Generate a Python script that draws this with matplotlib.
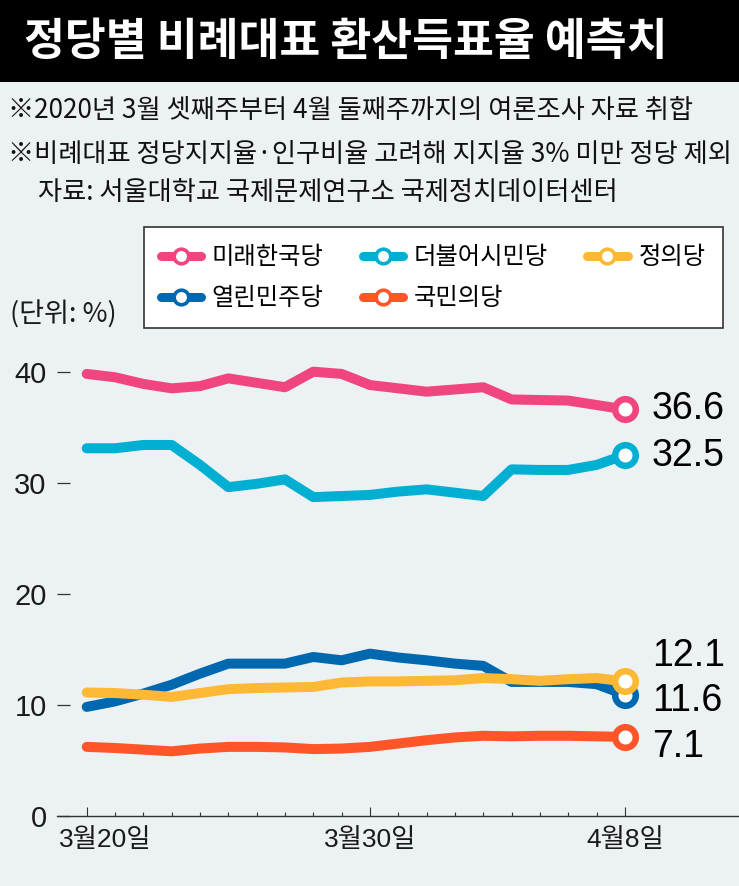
import matplotlib.pyplot as plt
import matplotlib.transforms as mtransforms
from matplotlib.lines import Line2D
from matplotlib.patches import Rectangle

plt.rcParams['font.family'] = ['Noto Sans CJK KR', 'DejaVu Sans']
NUM_FONT = ['Liberation Sans', 'Noto Sans CJK KR']

# data (daily, 3/20 ~ 4/8)
days = list(range(20))
date_ticks = [0, 10, 19]
date_labels = ['3월20일', '3월30일', '4월8일']

future_korea = [39.8, 39.5, 38.9, 38.5, 38.7, 39.4, 39.0, 38.6, 40.0, 39.8,
                38.8, 38.5, 38.2, 38.4, 38.6, 37.5, 37.45, 37.4, 37.0, 36.6]
platform = [33.1, 33.1, 33.4, 33.4, 31.6, 29.6, 29.9, 30.3, 28.7, 28.8,
            28.9, 29.2, 29.4, 29.1, 28.8, 31.2, 31.15, 31.15, 31.6, 32.5]
open_dem = [9.8, 10.3, 11.0, 11.8, 12.8, 13.7, 13.7, 13.7, 14.3, 14.0,
            14.6, 14.25, 14.0, 13.7, 13.5, 12.05, 12.05, 12.05, 11.85, 10.9]
justice = [11.1, 11.05, 10.9, 10.7, 11.05, 11.4, 11.5, 11.55, 11.6, 12.0,
           12.1, 12.1, 12.15, 12.2, 12.4, 12.3, 12.15, 12.3, 12.4, 12.1]
people = [6.2, 6.1, 5.95, 5.8, 6.05, 6.2, 6.2, 6.15, 6.0, 6.05,
          6.2, 6.5, 6.8, 7.05, 7.2, 7.15, 7.2, 7.2, 7.15, 7.1]

names = ['미래한국당', '더불어시민당', '열린민주당', '정의당', '국민의당']
series = [future_korea, platform, open_dem, justice, people]
end_labels = ['36.6', '32.5', '11.6', '12.1', '7.1']
colors = ['#F0457E', '#00AFD2', '#0068AE', '#FDB935', '#FF5529']
label_dy = [0, 1, 6.5, -25, 10]  # px, + is down

notes = ['※2020년 3월 셋째주부터 4월 둘째주까지의 여론조사 자료 취합',
         '※비례대표 정당지지율·인구비율 고려해 지지율 3% 미만 정당 제외',
         '자료: 서울대학교 국제문제연구소 국제정치데이터센터']

W, H = 739, 886
bg = '#ECF1F4'
fig = plt.figure(figsize=(W / 100, H / 100), dpi=100, facecolor=bg)

# title bar
fig.patches.append(Rectangle((0, 1 - 82 / H), 1, 82 / H, transform=fig.transFigure,
                             facecolor='black', edgecolor='none'))
fig.text(24 / W, 1 - 42 / H, '정당별 비례대표 환산득표율 예측치', color='white',
         fontsize=32, fontweight='bold', va='center', ha='left')

for (x, y), t in zip([(8, 110), (8, 155), (38, 192.5)], notes):
    fig.text(x / W, 1 - y / H, t, fontsize=18.9, color='#111111', va='center', ha='left')

fig.text(10 / W, 1 - 315 / H, '(단위: %)', fontsize=19.5, color='#1a1a1a', va='center', ha='left')

# axes
y0, y1 = 815.7, 340
ax = fig.add_axes([57 / W, 1 - y0 / H, (W - 57) / W, (y0 - y1) / H])
ax.set_facecolor(bg)
ax.set_xlim(-1.049, 23.03)
ax.set_ylim(0, (y0 - y1) / 11.1)

for s in ['left', 'top', 'right']:
    ax.spines[s].set_visible(False)
ax.spines['bottom'].set_color('#333333')
ax.spines['bottom'].set_linewidth(1.0)

ax.set_yticks([0, 10, 20, 30, 40])
ax.set_yticklabels(['0', '10', '20', '30', '40'], family=NUM_FONT, fontsize=21, color='#1a1a1a')
ax.tick_params(axis='y', direction='in', length=9.7, width=0.9, color='#333333', pad=7.4)

ax.set_xticks(date_ticks)
ax.set_xticklabels(date_labels, family=NUM_FONT, fontsize=19, color='#1a1a1a')
ax.set_xticks(days, minor=True)
ax.tick_params(axis='x', which='major', direction='in', length=6.5, width=0.8,
               color='#333333', pad=9)
ax.tick_params(axis='x', which='minor', direction='in', length=3, width=0.8, color='#333333')
first = ax.get_xticklabels()[0]
first.set_transform(first.get_transform() + mtransforms.ScaledTranslation(19 / 100, 0, fig.dpi_scale_trans))

for vals, c in zip(series, colors):
    ax.plot(days, vals, color=c, lw=7.2, solid_capstyle='round', solid_joinstyle='round',
            clip_on=False)
for vals, c, lab, dy in zip(series, colors, end_labels, label_dy):
    ax.plot(days[-1], vals[-1], 'o', ms=14.8, mfc='white', mec=c, mew=4.7, clip_on=False, zorder=5)
    ax.annotate(lab, (days[-1], vals[-1]), xytext=(27 * 0.72, -dy * 0.72),
                textcoords='offset points', va='center', ha='left',
                family=NUM_FONT, fontsize=27, color='black')

# legend (column-first order)
handles = [Line2D([], [], color=c, lw=6.5, marker='o', ms=10.5, mfc='white', mec=c, mew=2.6,
                  solid_capstyle='round') for c in colors]
order = [0, 2, 1, 4, 3]
leg = fig.legend([handles[i] for i in order], [names[i] for i in order], ncol=3,
                 loc='upper left', mode='expand',
                 bbox_to_anchor=(143.8 / W, 1 - 330 / H, 578.8 / W, 103 / H),
                 fontsize=17.5, frameon=True, fancybox=False, framealpha=1,
                 facecolor='white', edgecolor='#333333', handlelength=1.65,
                 handletextpad=0.45, borderpad=0.7, labelspacing=0.62, numpoints=1,
                 borderaxespad=0)
leg.get_frame().set_linewidth(1.2)

fig.savefig('out.png', dpi=100, facecolor=bg)
